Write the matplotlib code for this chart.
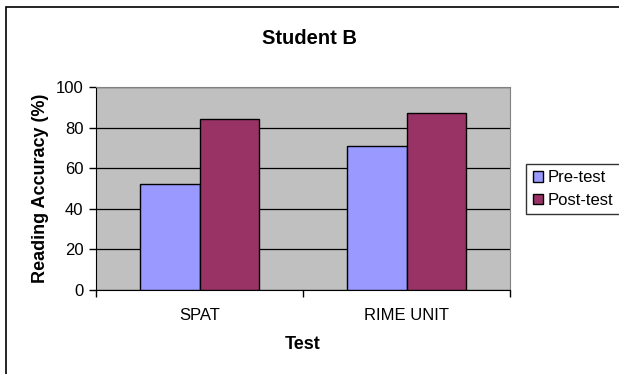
import numpy as np
import matplotlib.pyplot as plt
from matplotlib.patches import Rectangle

tests = ['SPAT', 'RIME UNIT']
pre_test = [52, 71]
post_test = [84, 87]
yticks = [0, 20, 40, 60, 80, 100]

plt.rcParams['font.family'] = ['Liberation Sans', 'DejaVu Sans']

fig = plt.figure(figsize=(6.19, 3.74), dpi=100)
ax = fig.add_axes([96 / 619, 1 - 290 / 374, 414 / 619, 203 / 374])

# outer chart frame (right/bottom edges cut off)
fig.patches.append(Rectangle((6 / 619, -0.1), 1.2, (374 - 7) / 374 + 0.1,
                             transform=fig.transFigure, fill=False,
                             edgecolor='black', linewidth=1.2))

x = np.arange(len(tests))
w = 1 / 3.5
ax.set_facecolor('#C0C0C0')
ax.bar(x - w / 2, pre_test, w, color='#9999FF', edgecolor='black', linewidth=1,
       label='Pre-test', zorder=3)
ax.bar(x + w / 2, post_test, w, color='#993366', edgecolor='black', linewidth=1,
       label='Post-test', zorder=3)

ax.set_xlim(-0.5, len(tests) - 0.5)
ax.set_ylim(0, 100)
ax.set_yticks(yticks)
ax.yaxis.grid(True, color='black', linewidth=0.9, zorder=1)
ax.set_axisbelow(True)
ax.set_xticks([-0.5, 0.5, 1.5])
ax.set_xticklabels([])
ax.set_xticks(x, minor=True)
ax.set_xticklabels(tests, minor=True, fontsize=12)
ax.tick_params(axis='x', which='minor', length=0, pad=13)
ax.tick_params(axis='x', which='major', direction='out', length=5, width=1)
ax.tick_params(axis='y', direction='out', length=5, width=1, labelsize=12, pad=4)

for side in ['top', 'right']:
    ax.spines[side].set_color('#808080')
for side in ['left', 'bottom']:
    ax.spines[side].set_color('black')

ax.set_xlabel('Test', fontsize=13, fontweight='bold', labelpad=9)
ax.set_ylabel('Reading Accuracy (%)', fontsize=13, fontweight='bold', labelpad=5)
fig.text(0.5, 1 - 38 / 374, 'Student B', ha='center', va='center',
         fontsize=14.5, fontweight='bold')

leg = fig.legend(loc='center left', bbox_to_anchor=(526 / 619, 1 - 189 / 374),
                 frameon=True, fancybox=False, edgecolor='black', fontsize=12,
                 handlelength=0.6, handleheight=0.6, handletextpad=0.3,
                 borderpad=0.4, labelspacing=0.45, borderaxespad=0)
leg.get_frame().set_linewidth(1)

fig.savefig('out.png', dpi=100)
